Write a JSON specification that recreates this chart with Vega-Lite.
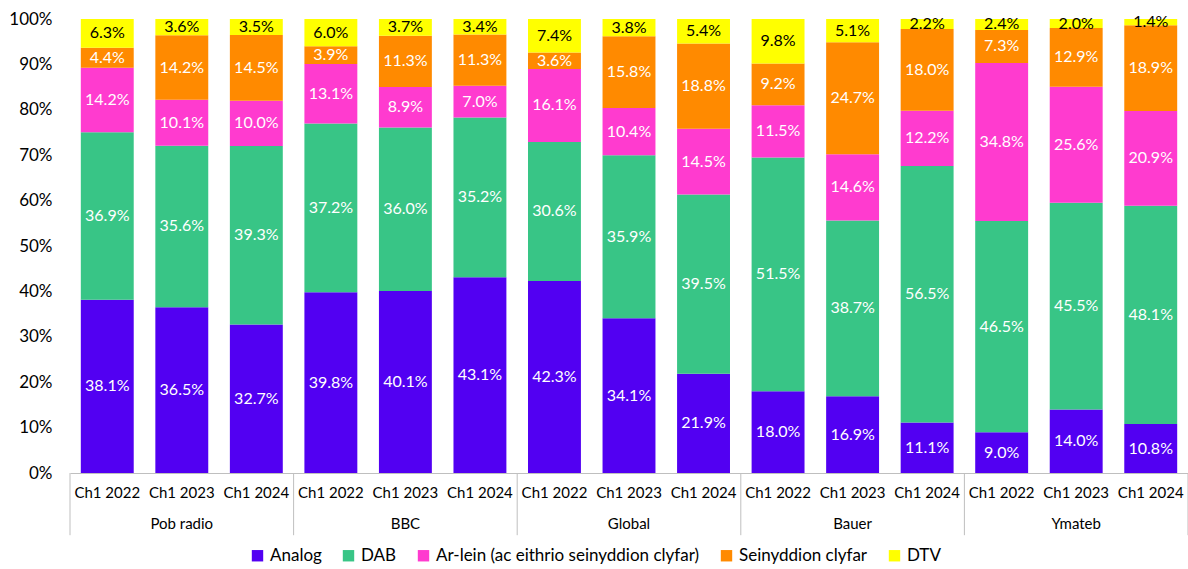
{
  "$schema": "https://vega.github.io/schema/vega-lite/v6.json",
  "width": 1118,
  "height": 454,
  "autosize": {"type": "none"},
  "padding": {"left": 70, "top": 19, "right": 0, "bottom": 96},
  "background": "white",
  "config": {"font": "Lato", "view": {"stroke": null}},
  "data": {"values": [
    {"g": "Pob radio", "p": "Ch1 2022", "s": "Analog", "v": 38.1},
    {"g": "Pob radio", "p": "Ch1 2022", "s": "DAB", "v": 36.9},
    {"g": "Pob radio", "p": "Ch1 2022", "s": "Ar-lein (ac eithrio seinyddion clyfar)", "v": 14.2},
    {"g": "Pob radio", "p": "Ch1 2022", "s": "Seinyddion clyfar", "v": 4.4},
    {"g": "Pob radio", "p": "Ch1 2022", "s": "DTV", "v": 6.3},
    {"g": "Pob radio", "p": "Ch1 2023", "s": "Analog", "v": 36.5},
    {"g": "Pob radio", "p": "Ch1 2023", "s": "DAB", "v": 35.6},
    {"g": "Pob radio", "p": "Ch1 2023", "s": "Ar-lein (ac eithrio seinyddion clyfar)", "v": 10.1},
    {"g": "Pob radio", "p": "Ch1 2023", "s": "Seinyddion clyfar", "v": 14.2},
    {"g": "Pob radio", "p": "Ch1 2023", "s": "DTV", "v": 3.6},
    {"g": "Pob radio", "p": "Ch1 2024", "s": "Analog", "v": 32.7},
    {"g": "Pob radio", "p": "Ch1 2024", "s": "DAB", "v": 39.3},
    {"g": "Pob radio", "p": "Ch1 2024", "s": "Ar-lein (ac eithrio seinyddion clyfar)", "v": 10.0},
    {"g": "Pob radio", "p": "Ch1 2024", "s": "Seinyddion clyfar", "v": 14.5},
    {"g": "Pob radio", "p": "Ch1 2024", "s": "DTV", "v": 3.5},
    {"g": "BBC", "p": "Ch1 2022", "s": "Analog", "v": 39.8},
    {"g": "BBC", "p": "Ch1 2022", "s": "DAB", "v": 37.2},
    {"g": "BBC", "p": "Ch1 2022", "s": "Ar-lein (ac eithrio seinyddion clyfar)", "v": 13.1},
    {"g": "BBC", "p": "Ch1 2022", "s": "Seinyddion clyfar", "v": 3.9},
    {"g": "BBC", "p": "Ch1 2022", "s": "DTV", "v": 6.0},
    {"g": "BBC", "p": "Ch1 2023", "s": "Analog", "v": 40.1},
    {"g": "BBC", "p": "Ch1 2023", "s": "DAB", "v": 36.0},
    {"g": "BBC", "p": "Ch1 2023", "s": "Ar-lein (ac eithrio seinyddion clyfar)", "v": 8.9},
    {"g": "BBC", "p": "Ch1 2023", "s": "Seinyddion clyfar", "v": 11.3},
    {"g": "BBC", "p": "Ch1 2023", "s": "DTV", "v": 3.7},
    {"g": "BBC", "p": "Ch1 2024", "s": "Analog", "v": 43.1},
    {"g": "BBC", "p": "Ch1 2024", "s": "DAB", "v": 35.2},
    {"g": "BBC", "p": "Ch1 2024", "s": "Ar-lein (ac eithrio seinyddion clyfar)", "v": 7.0},
    {"g": "BBC", "p": "Ch1 2024", "s": "Seinyddion clyfar", "v": 11.3},
    {"g": "BBC", "p": "Ch1 2024", "s": "DTV", "v": 3.4},
    {"g": "Global", "p": "Ch1 2022", "s": "Analog", "v": 42.3},
    {"g": "Global", "p": "Ch1 2022", "s": "DAB", "v": 30.6},
    {"g": "Global", "p": "Ch1 2022", "s": "Ar-lein (ac eithrio seinyddion clyfar)", "v": 16.1},
    {"g": "Global", "p": "Ch1 2022", "s": "Seinyddion clyfar", "v": 3.6},
    {"g": "Global", "p": "Ch1 2022", "s": "DTV", "v": 7.4},
    {"g": "Global", "p": "Ch1 2023", "s": "Analog", "v": 34.1},
    {"g": "Global", "p": "Ch1 2023", "s": "DAB", "v": 35.9},
    {"g": "Global", "p": "Ch1 2023", "s": "Ar-lein (ac eithrio seinyddion clyfar)", "v": 10.4},
    {"g": "Global", "p": "Ch1 2023", "s": "Seinyddion clyfar", "v": 15.8},
    {"g": "Global", "p": "Ch1 2023", "s": "DTV", "v": 3.8},
    {"g": "Global", "p": "Ch1 2024", "s": "Analog", "v": 21.9},
    {"g": "Global", "p": "Ch1 2024", "s": "DAB", "v": 39.5},
    {"g": "Global", "p": "Ch1 2024", "s": "Ar-lein (ac eithrio seinyddion clyfar)", "v": 14.5},
    {"g": "Global", "p": "Ch1 2024", "s": "Seinyddion clyfar", "v": 18.8},
    {"g": "Global", "p": "Ch1 2024", "s": "DTV", "v": 5.4},
    {"g": "Bauer", "p": "Ch1 2022", "s": "Analog", "v": 18.0},
    {"g": "Bauer", "p": "Ch1 2022", "s": "DAB", "v": 51.5},
    {"g": "Bauer", "p": "Ch1 2022", "s": "Ar-lein (ac eithrio seinyddion clyfar)", "v": 11.5},
    {"g": "Bauer", "p": "Ch1 2022", "s": "Seinyddion clyfar", "v": 9.2},
    {"g": "Bauer", "p": "Ch1 2022", "s": "DTV", "v": 9.8},
    {"g": "Bauer", "p": "Ch1 2023", "s": "Analog", "v": 16.9},
    {"g": "Bauer", "p": "Ch1 2023", "s": "DAB", "v": 38.7},
    {"g": "Bauer", "p": "Ch1 2023", "s": "Ar-lein (ac eithrio seinyddion clyfar)", "v": 14.6},
    {"g": "Bauer", "p": "Ch1 2023", "s": "Seinyddion clyfar", "v": 24.7},
    {"g": "Bauer", "p": "Ch1 2023", "s": "DTV", "v": 5.1},
    {"g": "Bauer", "p": "Ch1 2024", "s": "Analog", "v": 11.1},
    {"g": "Bauer", "p": "Ch1 2024", "s": "DAB", "v": 56.5},
    {"g": "Bauer", "p": "Ch1 2024", "s": "Ar-lein (ac eithrio seinyddion clyfar)", "v": 12.2},
    {"g": "Bauer", "p": "Ch1 2024", "s": "Seinyddion clyfar", "v": 18.0},
    {"g": "Bauer", "p": "Ch1 2024", "s": "DTV", "v": 2.2},
    {"g": "Ymateb", "p": "Ch1 2022", "s": "Analog", "v": 9.0},
    {"g": "Ymateb", "p": "Ch1 2022", "s": "DAB", "v": 46.5},
    {"g": "Ymateb", "p": "Ch1 2022", "s": "Ar-lein (ac eithrio seinyddion clyfar)", "v": 34.8},
    {"g": "Ymateb", "p": "Ch1 2022", "s": "Seinyddion clyfar", "v": 7.3},
    {"g": "Ymateb", "p": "Ch1 2022", "s": "DTV", "v": 2.4},
    {"g": "Ymateb", "p": "Ch1 2023", "s": "Analog", "v": 14.0},
    {"g": "Ymateb", "p": "Ch1 2023", "s": "DAB", "v": 45.5},
    {"g": "Ymateb", "p": "Ch1 2023", "s": "Ar-lein (ac eithrio seinyddion clyfar)", "v": 25.6},
    {"g": "Ymateb", "p": "Ch1 2023", "s": "Seinyddion clyfar", "v": 12.9},
    {"g": "Ymateb", "p": "Ch1 2023", "s": "DTV", "v": 2.0},
    {"g": "Ymateb", "p": "Ch1 2024", "s": "Analog", "v": 10.8},
    {"g": "Ymateb", "p": "Ch1 2024", "s": "DAB", "v": 48.1},
    {"g": "Ymateb", "p": "Ch1 2024", "s": "Ar-lein (ac eithrio seinyddion clyfar)", "v": 20.9},
    {"g": "Ymateb", "p": "Ch1 2024", "s": "Seinyddion clyfar", "v": 18.9},
    {"g": "Ymateb", "p": "Ch1 2024", "s": "DTV", "v": 1.4}
  ]},
  "transform": [
    {"calculate": "datum.g + '|' + datum.p", "as": "k"},
    {"calculate": "indexof(['Analog','DAB','Ar-lein (ac eithrio seinyddion clyfar)','Seinyddion clyfar','DTV'], datum.s)", "as": "o"},
    {"calculate": "format(datum.v, '.1f') + '%'", "as": "lbl"}
  ],
  "encoding": {
    "x": {
      "field": "k",
      "type": "nominal",
      "sort": null,
      "scale": {"paddingInner": 0, "paddingOuter": 0},
      "axis": {
        "title": null,
        "labelExpr": "split(datum.label, '|')[1]",
        "labelAngle": 0,
        "labelFontSize": 15,
        "labelColor": "#000000",
        "labelPadding": 12,
        "ticks": false,
        "domainColor": "#bfbfbf",
        "grid": false
      }
    }
  },
  "layer": [
    {
      "mark": {"type": "bar", "width": {"band": 0.71}},
      "encoding": {
        "y": {
          "field": "v",
          "type": "quantitative",
          "stack": "normalize",
          "scale": {"domain": [0, 1], "nice": false},
          "axis": {
            "title": null,
            "format": ".0%",
            "values": [0, 0.1, 0.2, 0.3, 0.4, 0.5, 0.6, 0.7, 0.8, 0.9, 1],
            "domain": false,
            "ticks": false,
            "grid": false,
            "labelFontSize": 17,
            "labelColor": "#000000",
            "labelPadding": 18
          }
        },
        "color": {
          "field": "s",
          "type": "nominal",
          "scale": {
            "domain": ["Analog", "DAB", "Ar-lein (ac eithrio seinyddion clyfar)", "Seinyddion clyfar", "DTV"],
            "range": ["#5200F2", "#38C586", "#FF3BCF", "#FF8A00", "#FFFF00"]
          },
          "legend": {
            "title": null,
            "orient": "none",
            "direction": "horizontal",
            "legendX": 179,
            "legendY": 528,
            "columns": 5,
            "columnPadding": 18,
            "symbolType": "square",
            "symbolSize": 130,
            "symbolStrokeWidth": 0,
            "labelFontSize": 17,
            "labelColor": "#000000",
            "labelOffset": 4,
            "labelLimit": 0
          }
        },
        "order": {"field": "o", "type": "quantitative"}
      }
    },
    {
      "mark": {"type": "text", "fontSize": 16, "baseline": "middle", "align": "center"},
      "encoding": {
        "y": {"field": "v", "type": "quantitative", "stack": "normalize", "bandPosition": 0.5},
        "detail": {"field": "s"},
        "order": {"field": "o", "type": "quantitative"},
        "text": {"field": "lbl"},
        "color": {"condition": {"test": "datum.s === 'DTV'", "value": "#000000"}, "value": "#ffffff"}
      }
    },
    {
      "transform": [{"filter": "datum.s === 'Analog' && datum.p === 'Ch1 2023'"}],
      "mark": {"type": "text", "fontSize": 15, "baseline": "middle", "align": "center", "dy": 51, "color": "#000000"},
      "encoding": {
        "y": {"datum": 0},
        "text": {"field": "g"}
      }
    },
    {
      "transform": [{"filter": "datum.s === 'Analog' && datum.p === 'Ch1 2022'"}],
      "mark": {"type": "rule", "color": "#bfbfbf", "strokeWidth": 1},
      "encoding": {
        "x": {"field": "k", "type": "nominal", "sort": null, "bandPosition": 0},
        "y": {"datum": 0},
        "y2": {"datum": -0.137}
      }
    },
    {
      "transform": [{"filter": "datum.s === 'Analog' && datum.k === 'Ymateb|Ch1 2024'"}],
      "mark": {"type": "rule", "color": "#bfbfbf", "strokeWidth": 1},
      "encoding": {
        "x": {"field": "k", "type": "nominal", "sort": null, "bandPosition": 1},
        "y": {"datum": 0},
        "y2": {"datum": -0.137}
      }
    }
  ]
}
